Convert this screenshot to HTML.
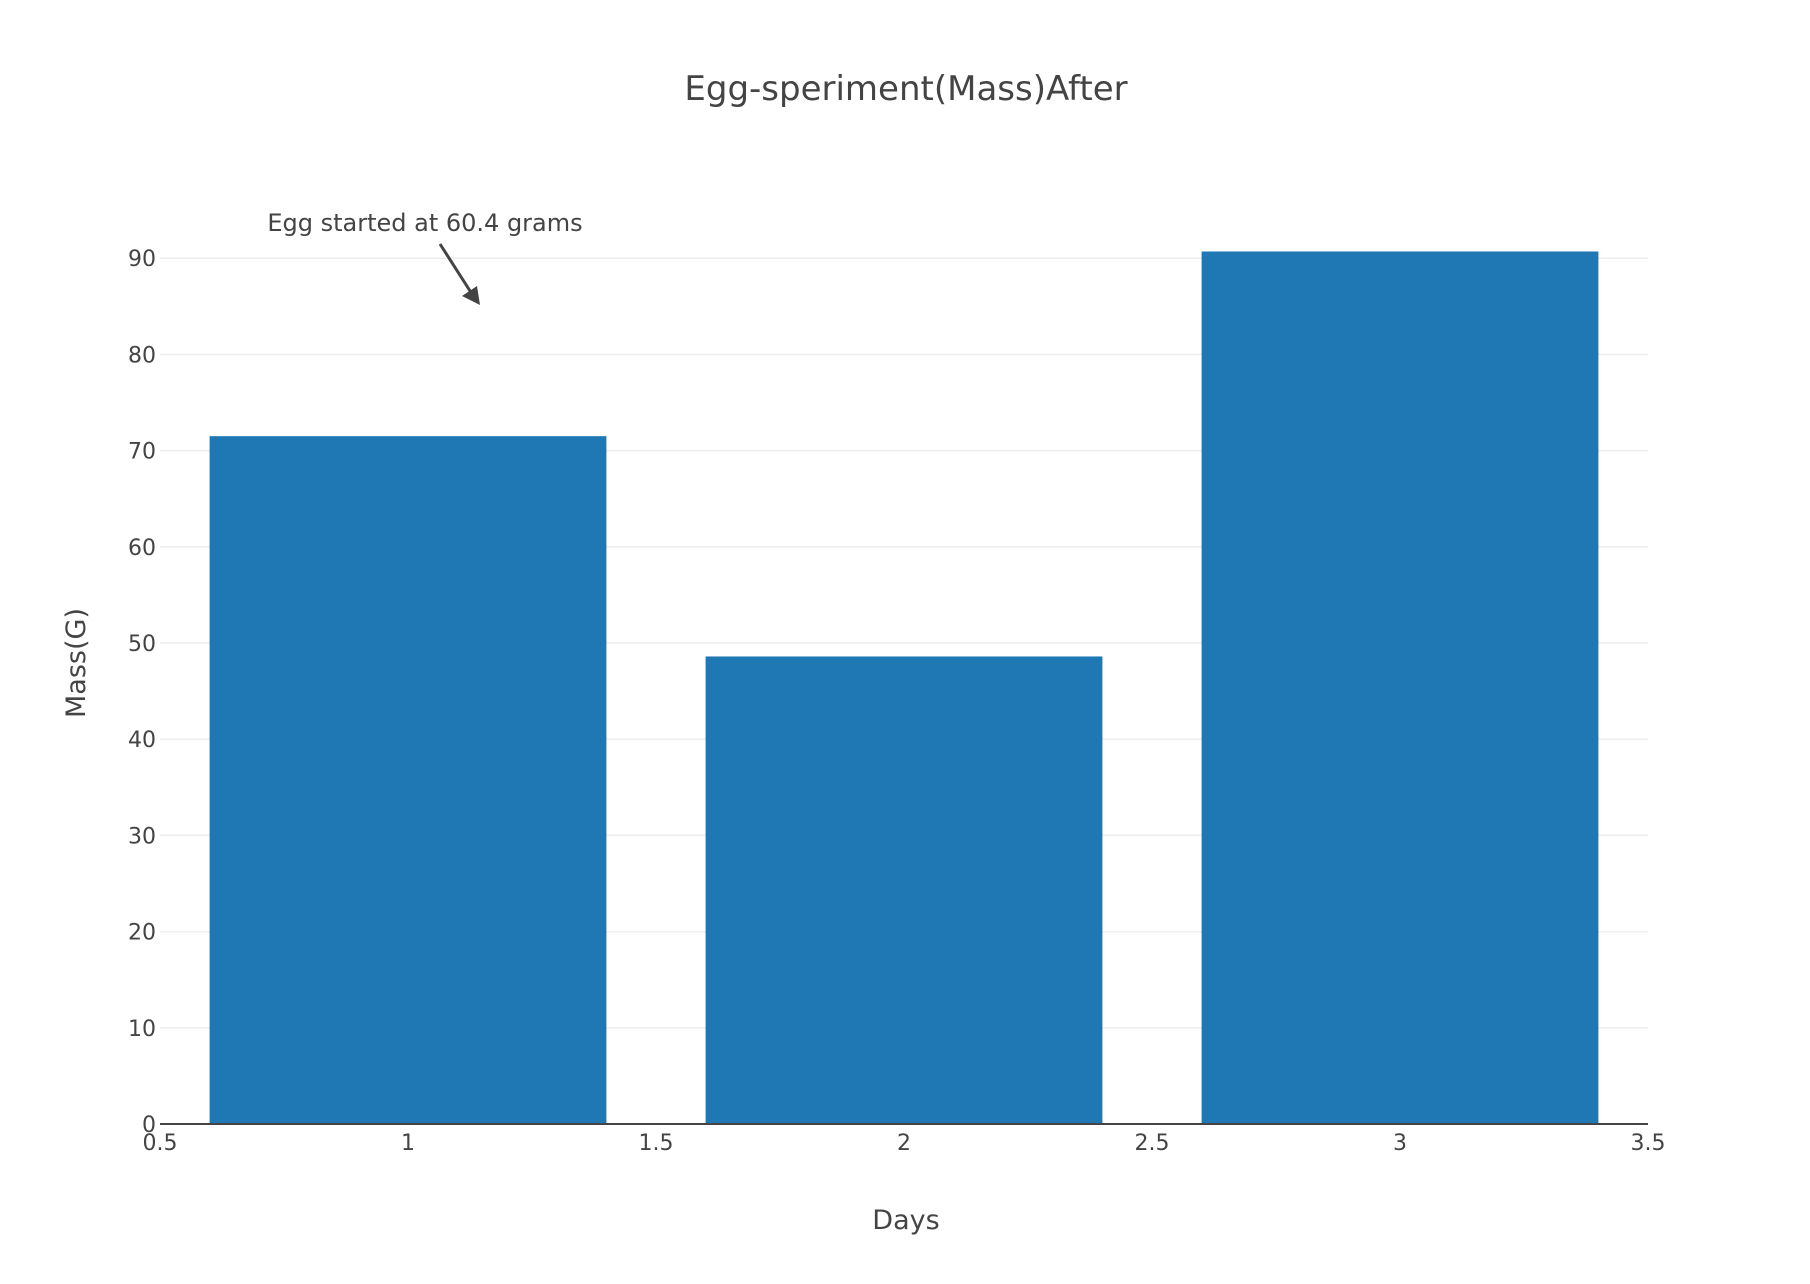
<!DOCTYPE html>
<html><head><meta charset="utf-8"><style>
body{margin:0;background:#fff;}
svg{display:block;font-family:"DejaVu Sans","Liberation Sans",sans-serif;}
</style></head><body>
<svg id="chart" width="1810" height="1284">
<text x="906" y="100" text-anchor="middle" font-size="34" fill="#444">Egg-speriment(Mass)After</text>
<g id="grid"></g><g id="bars"></g><g id="axes"></g>
<text x="906" y="1229" text-anchor="middle" font-size="27" fill="#444">Days</text>
<text transform="translate(85,663) rotate(-90)" text-anchor="middle" font-size="27" fill="#444">Mass(G)</text>
<g>
<text x="425" y="231" text-anchor="middle" font-size="24" fill="#444">Egg started at 60.4 grams</text>
<line x1="440" y1="244" x2="472" y2="294" stroke="#444" stroke-width="3"/>
<polygon points="480,305 462,296 477,286" fill="#444"/>
</g>
</svg>
<script>
const categories=[1,2,3];
const values=[71.5,48.6,90.7];
const yTicks=[0,10,20,30,40,50,60,70,80,90];
const xTicks=[0.5,1,1.5,2,2.5,3,3.5];
const L=160,R=1648,Y0=1124,PU=9.62;
const xs=v=>L+(v-0.5)/3*(R-L);
const ys=v=>Y0-v*PU;
const NS="http://www.w3.org/2000/svg";
function mk(t,a,p){const e=document.createElementNS(NS,t);for(const k in a)e.setAttribute(k,a[k]);p.appendChild(e);return e;}
const grid=document.getElementById('grid'),bars=document.getElementById('bars'),axes=document.getElementById('axes');
yTicks.forEach(t=>{
  if(t>0){const g=mk('line',{x1:L,x2:R,y1:ys(t),y2:ys(t),stroke:'#eee','stroke-width':1.5},grid);
  
  }
  const tx=mk('text',{x:L-4,y:ys(t)+8,'text-anchor':'end','font-size':22,fill:'#444'},axes);tx.textContent=t;
  
  
});
xTicks.forEach(t=>{
  const tx=mk('text',{x:xs(t),y:Y0+26,'text-anchor':'middle','font-size':22,fill:'#444'},axes);tx.textContent=t;
  
  
});
categories.forEach((c,i)=>{
  const x1=xs(c-0.4),x2=xs(c+0.4);
  const b=mk('rect',{x:x1,y:ys(values[i]),width:x2-x1,height:Y0-ys(values[i]),fill:'#1f77b4'},bars);
  
  
});
const ax=mk('line',{x1:L,x2:R,y1:Y0,y2:Y0,stroke:'#444','stroke-width':2},axes);


</script>
</body></html>
